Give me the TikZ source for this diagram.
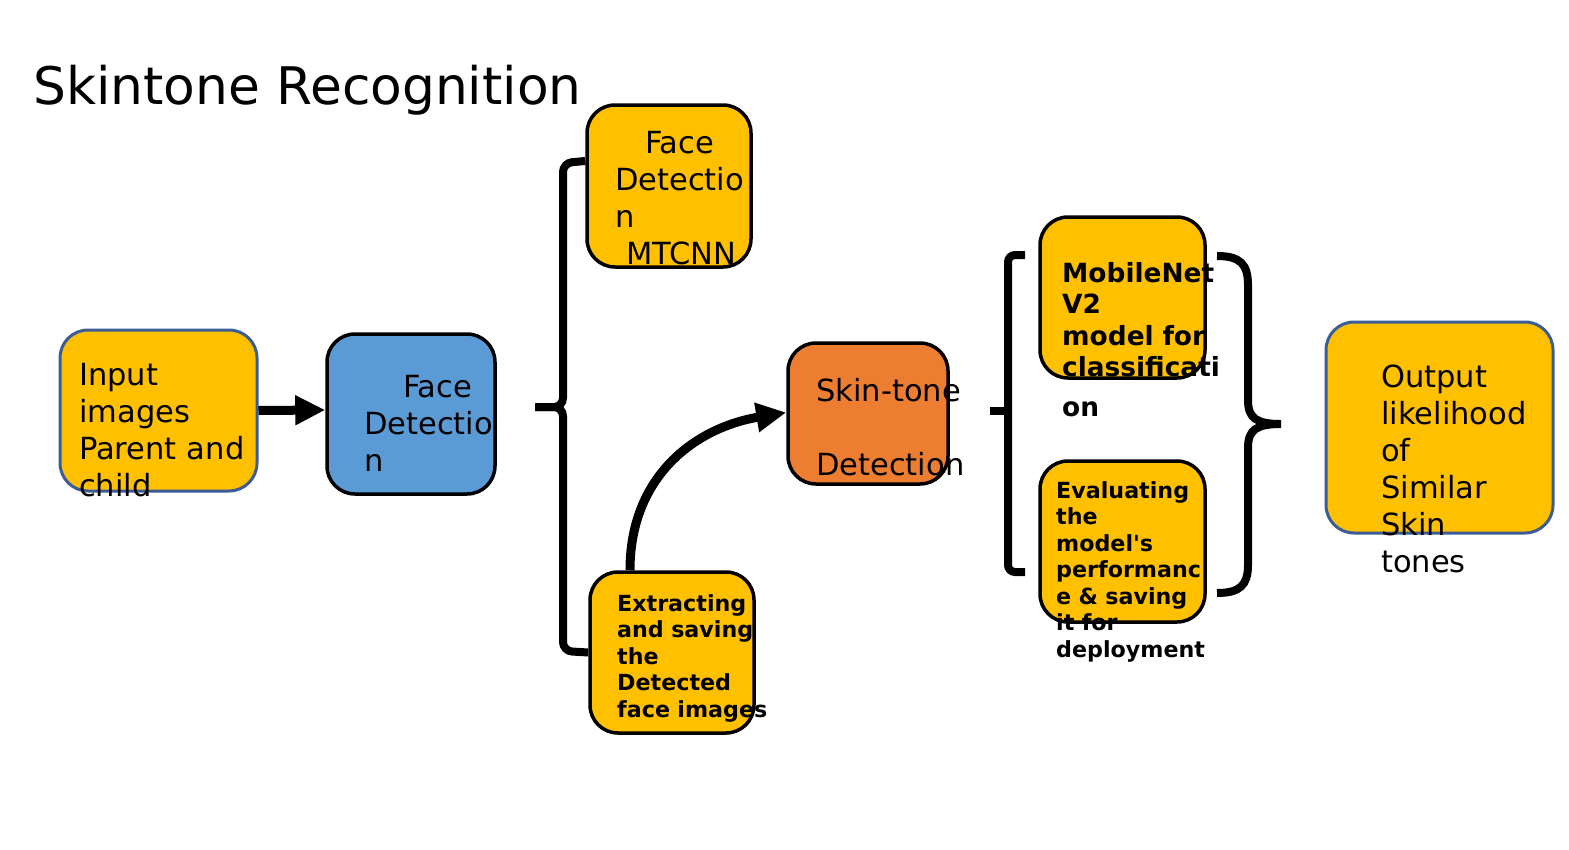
\documentclass[tikz,border=0pt]{standalone}
\usepackage{fontspec}
\setmainfont[Ligatures=TeXOff]{DejaVu Sans}
\usetikzlibrary{arrows.meta, calc}
\definecolor{skyellow}{HTML}{FFC000}
\definecolor{skblue}{HTML}{5B9BD5}
\definecolor{skorange}{HTML}{ED7D31}
\definecolor{skborder}{HTML}{3C5C96}

\begin{document}
\begin{tikzpicture}[
    x=1pt, y=-1pt,
    box/.style = {draw, line width=3.5pt, rounded corners=28pt, inner sep=0pt},
    ybox/.style = {box, fill=skyellow},
    obox/.style = {ybox, draw=skborder, line width=3pt},
    txt/.style = {anchor=base west, inner sep=0pt, align=left, text width=300pt, font=\fontsize{30.5}{37}\selectfont},
    btxt/.style = {txt, font=\bfseries\fontsize{22.2}{26.5}\selectfont},
    mtxt/.style = {txt, font=\bfseries\fontsize{26.4}{31.5}\selectfont},
    bigarrow/.style = {line width=9pt, -{Triangle[length=30pt, width=28pt]}},
    brace/.style = {line width=8pt, rounded corners=9pt}
  ]
  \useasboundingbox (0,0) rectangle (1569,849);

  \node[anchor=base west, inner sep=0pt, font=\fontsize{51.8}{60}\selectfont] (title) at (33,104) {Skintone Recognition};

  % boxes
  \node[obox, minimum width=197pt, minimum height=161pt] (input) at (158.5,410.5) {};
  \node[box, fill=skblue, minimum width=168pt, minimum height=160pt] (fd) at (411,414) {};
  \node[ybox, minimum width=164pt, minimum height=162pt] (fdm) at (669,186) {};
  \node[ybox, minimum width=164pt, minimum height=161pt] (extract) at (672,652.5) {};
  \node[box, fill=skorange, minimum width=160pt, minimum height=141pt] (skin) at (868,413.5) {};
  \node[ybox, minimum width=165pt, minimum height=161pt] (mobile) at (1122.5,297.5) {};
  \node[ybox, minimum width=165pt, minimum height=161pt] (eval) at (1122.5,541.5) {};
  \node[obox, minimum width=227pt, minimum height=211pt] (output) at (1439.5,427.5) {};

  % texts
  \node[txt] (input_t) at (79,385) {Input\\images\\Parent and\\child};
  \node[txt] (fd_t) at (364,397) {\hspace*{39pt}Face\\Detectio\\n};
  \node[txt] (fdm_t) at (615,153) {\hspace*{30pt}Face\\Detectio\\n\\\hspace*{11pt}MTCNN};
  \node[btxt] (extract_t) at (617,611) {Extracting\\and saving\\the\\Detected\\face images};
  \node[txt, font=\fontsize{30.5}{74}\selectfont] (skin_t) at (816,401) {Skin-tone\\Detection};
  \node[mtxt] (mobile_t) at (1062,282) {MobileNet\\V2\\model for\\classificati};
  \node[mtxt] (mobile_on) at (1062,416) {on};
  \node[btxt] (eval_t) at (1056,498) {Evaluating\\the\\model's\\performanc\\e \& saving\\it for\\deployment};
  \node[txt] (output_t) at (1381,387) {Output\\likelihood\\of\\Similar\\Skin\\tones};

  % arrows
  \draw[bigarrow] (input.east) -- ([yshift=4pt]fd.west);
  \draw[bigarrow] ([xshift=-42pt]extract.north) .. controls +(0,-95) and +(-90,15) .. ([yshift=1pt]skin.west);

  % braces
  \coordinate (b1tip) at (535,407);
  \draw[brace] ([yshift=25pt]fdm.west) -- (563,163) -- (563,407) -- (b1tip);
  \draw[brace] (extract.west) -- (563,651) -- (563,407) -- (b1tip);

  \coordinate (b2top) at (1025,255);
  \coordinate (b2bot) at (1025,572);
  \coordinate (b2tip) at (990,411);
  \draw[brace, rounded corners=7pt] (b2top) -| (1008,411) |- (b2bot);
  \draw[line width=8pt] (1008,411) -- (b2tip);

  \coordinate (b3top) at (1217,256);
  \coordinate (b3bot) at (1217,593);
  \coordinate (b3tip) at (1281,424);
  \draw[line width=8pt] (b3top) .. controls (1240,256) and (1248,264) .. (1248,285) -- (1248,400)
    .. controls (1248,418) and (1256,424) .. (b3tip)
    .. controls (1256,424) and (1248,430) .. (1248,448) -- (1248,565)
    .. controls (1248,585) and (1240,593) .. (b3bot);
\end{tikzpicture}
\end{document}
